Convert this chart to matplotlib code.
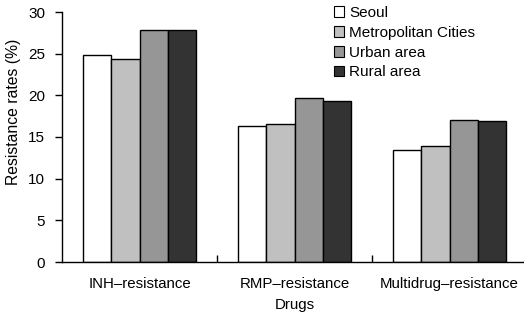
import matplotlib
matplotlib.use("Agg")
import matplotlib.pyplot as plt
import numpy as np
from matplotlib.patches import Patch

categories = ["INH\u2013resistance", "RMP\u2013resistance", "Multidrug\u2013resistance"]
series_names = ["Seoul", "Metropolitan Cities", "Urban area", "Rural area"]
seoul = [24.9, 16.3, 13.4]
metro = [24.3, 16.6, 13.9]
urban = [27.8, 19.7, 17.0]
rural = [27.9, 19.3, 16.9]
colors = ["#ffffff", "#c0c0c0", "#969696", "#333333"]
yticks = [0, 5, 10, 15, 20, 25, 30]

plt.rcParams['font.family'] = ['Liberation Sans', 'DejaVu Sans']

fig = plt.figure(figsize=(5.24, 3.14), dpi=100)
ax = fig.add_axes([62/524, 52/314, 465/524, 250/314])

x = np.arange(len(categories))
w = 0.182
data = [seoul, metro, urban, rural]
for i, (vals, c) in enumerate(zip(data, colors)):
    ax.bar(x + (i - 1.5) * w, vals, width=w, color=c, edgecolor="black", linewidth=1.0)

ax.set_xlim(-0.5, 2.5)
ax.set_ylim(0, 30)
ax.set_yticks(yticks)
ax.tick_params(axis='y', direction='out', length=5, width=1, labelsize=11, pad=7)
ax.set_xticks(x)
ax.set_xticklabels(categories, fontsize=10.8)
ax.tick_params(axis='x', which='major', length=0, pad=11)
ax.set_xticks([0.5, 1.5], minor=True)
ax.tick_params(axis='x', which='minor', direction='in', length=5, width=1)
for s in ['top', 'right']:
    ax.spines[s].set_visible(False)
ax.spines['left'].set_linewidth(1)
ax.spines['bottom'].set_linewidth(1)

ax.set_xlabel("Drugs", fontsize=10.8, labelpad=5)
ax.set_ylabel("Resistance rates (%)", fontsize=11.3)
ax.yaxis.set_label_coords(-0.088, 0.6)

handles = [Patch(facecolor=c, edgecolor="black", linewidth=0.8) for c in colors]
fig.legend(handles, series_names, loc='upper left', bbox_to_anchor=(323/524, 1.015),
           frameon=False, fontsize=11, handlelength=0.7, handleheight=0.7,
           handletextpad=0.3, labelspacing=0.38, borderpad=0.2)

fig.savefig("out.png", dpi=100)
